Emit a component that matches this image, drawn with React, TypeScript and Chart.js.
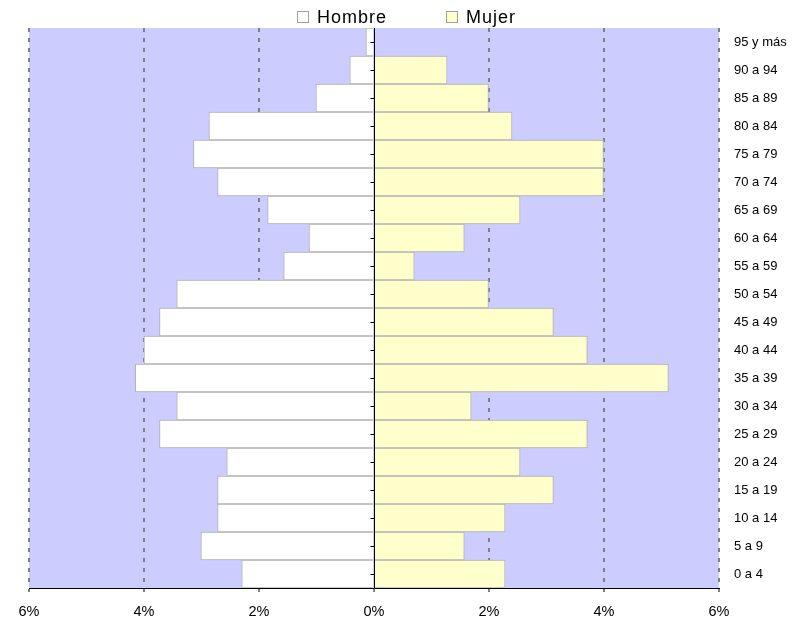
import React, { useEffect, useRef } from "react";
import { Chart, registerables } from "chart.js";

Chart.register(...registerables);

// Age groups, bottom to top
const ageGroups = [
  "0 a 4", "5 a 9", "10 a 14", "15 a 19", "20 a 24", "25 a 29", "30 a 34",
  "35 a 39", "40 a 44", "45 a 49", "50 a 54", "55 a 59", "60 a 64", "65 a 69",
  "70 a 74", "75 a 79", "80 a 84", "85 a 89", "90 a 94", "95 y más",
];

// Percent of total population
const hombre = [
  2.30, 3.01, 2.72, 2.72, 2.56, 3.73, 3.43, 4.15, 4.00, 3.73,
  3.43, 1.57, 1.13, 1.85, 2.72, 3.14, 2.87, 1.01, 0.42, 0.14,
];
const mujer = [
  2.28, 1.57, 2.28, 3.12, 2.54, 3.71, 1.69, 5.12, 3.71, 3.12,
  1.99, 0.70, 1.57, 2.54, 3.99, 3.99, 2.40, 1.99, 1.27, 0,
];

const xTicks = [-6, -4, -2, 0, 2, 4, 6];

const FONT = '"Liberation Sans", Arial, sans-serif';

const bgPlugin = {
  id: "bgPlugin",
  beforeDraw(chart: any) {
    const { ctx, chartArea } = chart;
    ctx.save();
    ctx.fillStyle = "#CCCCFF";
    ctx.fillRect(chartArea.left, chartArea.top, chartArea.right - chartArea.left, chartArea.bottom - chartArea.top);
    ctx.restore();
  },
};

const centerAxisPlugin = {
  id: "centerAxis",
  afterDatasetsDraw(chart: any) {
    const { ctx, chartArea, scales } = chart;
    const x0 = Math.round(scales.x.getPixelForValue(0)) + 0.5;
    ctx.save();
    ctx.strokeStyle = "#000";
    ctx.lineWidth = 1;
    ctx.beginPath();
    ctx.moveTo(x0, chartArea.top);
    ctx.lineTo(x0, chartArea.bottom);
    const n = chart.data.labels.length;
    for (let i = 0; i < n; i++) {
      const y = Math.round(scales.y.getPixelForTick(i)) + 0.5;
      ctx.moveTo(x0 - 4, y);
      ctx.lineTo(x0, y);
    }
    ctx.stroke();
    ctx.restore();
  },
};

const legendPlugin = {
  id: "customLegend",
  afterDraw(chart: any) {
    const { ctx, width } = chart;
    const ds = chart.data.datasets;
    ctx.save();
    ctx.font = `18px ${FONT}`;
    (ctx as any).letterSpacing = "1px";
    ctx.textBaseline = "alphabetic";
    const box = 11;
    const gapText = 9;
    const itemGap = 60;
    const widths = ds.map((d: any) => ctx.measureText(d.label).width - 1);
    let total = 0;
    widths.forEach((w: number, i: number) => {
      total += box + gapText + w + (i < widths.length - 1 ? itemGap : 0);
    });
    let x = width / 2 + 4 - total / 2;
    ds.forEach((d: any, i: number) => {
      ctx.fillStyle = d.backgroundColor;
      ctx.fillRect(x + 0.5, 11.5, box, box);
      ctx.strokeStyle = "#A0A0A0";
      ctx.lineWidth = 1;
      ctx.strokeRect(x + 0.5, 11.5, box, box);
      ctx.fillStyle = "#000";
      ctx.fillText(d.label, x + box + gapText, 22.5);
      x += box + gapText + widths[i] + itemGap;
    });
    ctx.restore();
  },
};

export default function App() {
  const ref = useRef<HTMLCanvasElement | null>(null);

  useEffect(() => {
    if (!ref.current) return;
    const chart = new Chart(ref.current, {
      type: "bar",
      data: {
        labels: ageGroups,
        datasets: [
          {
            label: "Hombre",
            data: hombre.map((v) => -v),
            backgroundColor: "#FFFFFF",
            borderColor: "#B2B2B2",
            borderWidth: 1,
            barPercentage: 1,
            categoryPercentage: 1,
          },
          {
            label: "Mujer",
            data: mujer,
            backgroundColor: "#FFFFCC",
            borderColor: "#B2B2B2",
            borderWidth: 1,
            barPercentage: 1,
            categoryPercentage: 1,
          },
        ],
      },
      options: {
        indexAxis: "y",
        responsive: false,
        animation: false,
        layout: { padding: { top: 28, left: 29, right: 0, bottom: 0 } },
        plugins: {
          legend: { display: false },
          tooltip: { enabled: false },
        },
        scales: {
          x: {
            type: "linear",
            stacked: true,
            min: -6,
            max: 6,
            afterBuildTicks: (scale: any) => {
              scale.ticks = xTicks.map((v) => ({ value: v }));
            },
            afterFit: (scale: any) => {
              scale.height = 33;
            },
            ticks: {
              stepSize: 2,
              padding: 11,
              color: "#000",
              font: { family: FONT, size: 14.5 },
              callback: (v: any) => Math.abs(Number(v)) + "%",
            },
            grid: {
              color: (c: any) => (c.tick && c.tick.value === 0 ? "rgba(0,0,0,0)" : "#808080"),
              lineWidth: 2,
              tickColor: "#000",
              tickLength: 4,
              tickWidth: 1,
            },
            border: { display: true, color: "#000", width: 1, dash: [4, 6] },
          },
          y: {
            type: "category",
            stacked: true,
            reverse: true,
            position: "right",
            afterFit: (scale: any) => {
              scale.width = 85;
            },
            grid: { display: false, drawTicks: false },
            border: { display: false },
            ticks: {
              padding: 15,
              color: "#000",
              font: { family: FONT, size: 13 },
              autoSkip: false,
            },
          },
        },
      },
      plugins: [bgPlugin, centerAxisPlugin, legendPlugin],
    } as any);
    return () => chart.destroy();
  }, []);

  return (
    <div style={{ position: "fixed", left: 0, top: 0, width: 804, height: 621, background: "#fff" }}>
      <canvas ref={ref} width={804} height={621} style={{ display: "block" }} />
    </div>
  );
}
